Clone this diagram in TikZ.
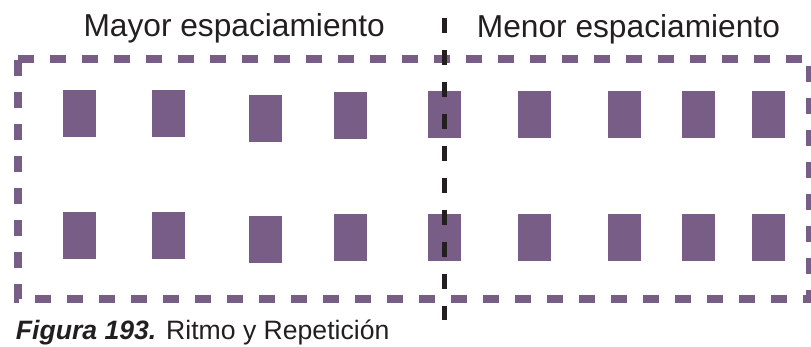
\documentclass[tikz,border=0pt]{standalone}
\usepackage{fontspec}
\setmainfont{Liberation Sans}
\definecolor{morado}{HTML}{785E86}
\definecolor{tinta}{HTML}{231F20}
\begin{document}
\begin{tikzpicture}[x=1pt, y=-1pt,
        barra/.style={fill=morado, inner sep=0pt, minimum width=33pt, minimum height=47pt},
        marco/.style={morado, line width=8pt, dash pattern=on 16pt off 16pt},
        divisor/.style={tinta, line width=5.5pt, dash pattern=on 15pt off 17pt},
        titulo/.style={anchor=base west, inner sep=0pt, text=tinta, font=\fontsize{31.7}{36}\selectfont}]
        \useasboundingbox (0,0) rectangle (811,347);
        % marco punteado
        \draw[marco] (17.5,59) -- (810,59) -- (810,299) -- (17.5,299) -- cycle;
        % fila superior
        \node[barra] (a1) at (79.8,113.3) {};
        \node[barra] (a2) at (168.8,113.3) {};
        \node[barra] (a3) at (265.8,118.3) {};
        \node[barra] (a4) at (350.8,115.5) {};
        \node[barra] (a5) at (444.7,115) {};
        \node[barra] (a6) at (534.8,115) {};
        \node[barra] (a7) at (624.8,115) {};
        \node[barra] (a8) at (698.8,115) {};
        \node[barra] (a9) at (768.8,115) {};
        % fila inferior
        \node[barra] (b1) at (79.8,235.3) {};
        \node[barra] (b2) at (168.8,235.3) {};
        \node[barra] (b3) at (265.8,240) {};
        \node[barra] (b4) at (350.8,237.5) {};
        \node[barra] (b5) at (444.7,237.3) {};
        \node[barra] (b6) at (534.8,237.3) {};
        \node[barra] (b7) at (624.8,237.3) {};
        \node[barra] (b8) at (698.8,237.3) {};
        \node[barra] (b9) at (768.8,237.3) {};
        % division
        \coordinate (arriba) at (444.5,18);
        \coordinate (abajo) at (444.5,320);
        \draw[divisor] (arriba) -- (abajo);
        \node[titulo] (mayor) at (83.3,36.7) {Mayor espaciamiento};
        \node[titulo] (menor) at (476.7,37.3) {Menor espaciamiento};
        \node[anchor=base west, inner sep=0pt, text=tinta, font=\fontsize{26.6}{30}\selectfont]
            (pie) at (15.7,339.3) {{\bfseries\itshape Figura 193.} Ritmo y Repetición};
    \end{tikzpicture}
\end{document}
